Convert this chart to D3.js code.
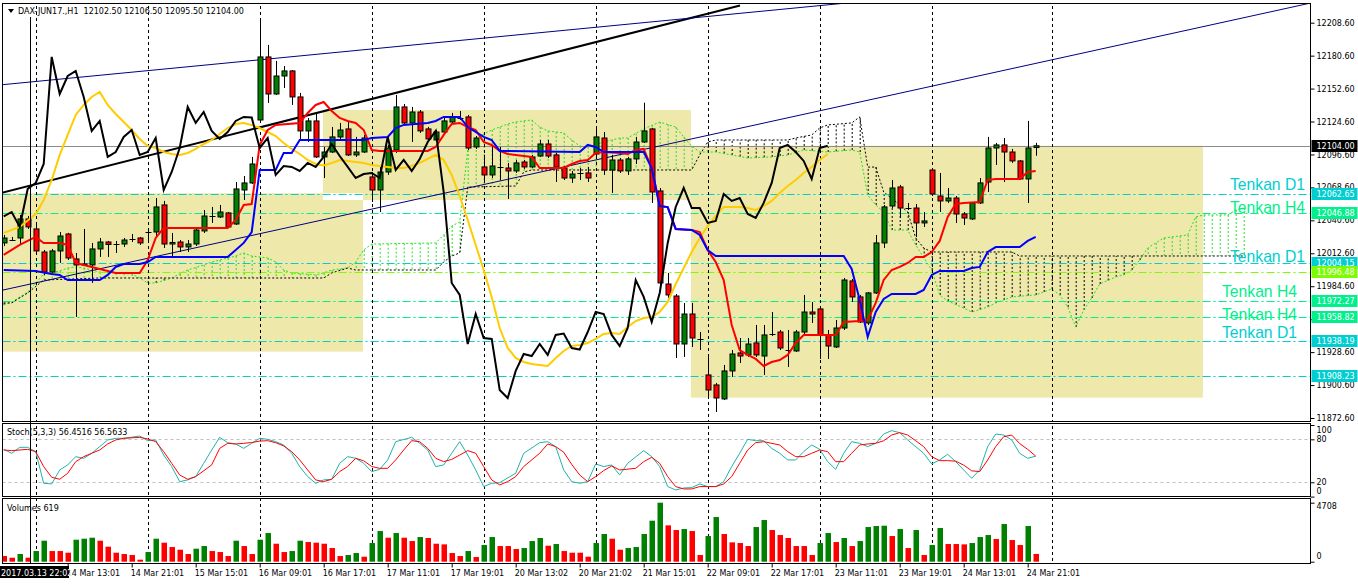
<!DOCTYPE html>
<html><head><meta charset="utf-8">
<script src="https://cdn.jsdelivr.net/npm/d3@7"></script>
<style>body{margin:0;background:#fff}svg{display:block}text{font-family:"DejaVu Sans",sans-serif}</style>
</head><body><svg id="c" width="1358" height="584"></svg>
<script>
// ---------- DATA ----------
const symbolTitle = "DAX-JUN17.,H1  12102.50 12106.50 12095.50 12104.00";
const open = [
12021.4,12024.8,12025.6,12041.8,12033.3,12013.7,11996.7,12014.6,12029.0,12007.8,
12002.7,12002.7,12016.3,12022.2,12021.4,12020.5,12024.3,12025.6,12030.3,12030.7,
12053.7,12020.5,12022.2,12018.0,12020.5,12031.6,12043.5,12043.5,12046.9,12037.5,
12066.4,12072.4,12125.9,12179.5,12148.0,12163.3,12167.6,12145.5,12116.6,12125.1,
12094.5,12098.7,12111.5,12118.3,12096.2,12098.7,12077.5,12066.4,12081.7,12100.4,
12137.0,12123.4,12132.7,12118.3,12108.9,12115.7,12124.2,12128.5,12128.5,12103.0,
12086.0,12079.2,12086.4,12085.1,12082.6,12090.2,12086.0,12095.3,12105.5,12096.2,
12085.1,12076.6,12081.3,12080.9,12097.0,12110.6,12083.4,12091.9,12082.6,12092.8,
12107.2,12118.3,12065.6,11986.5,11976.3,11935.5,11961.0,11940.2,11909.2,11900.7,
11888.8,11912.6,11927.9,11926.2,11936.4,11925.3,11944.9,11945.7,11931.3,11929.6,
11945.7,11962.7,11965.3,11943.2,11933.0,11949.1,11989.1,11975.5,11953.4,11978.9,
12021.4,12052.8,12069.0,12051.5,12051.1,12038.4,12083.4,12061.3,12057.1,12059.6,
12046.0,12041.8,12055.4,12073.2,12102.1,12104.7,12098.7,12091.1,12075.8,12102.5];
const high = [
12028.2,12026.5,12045.2,12044.3,12036.7,12015.4,12016.3,12030.7,12030.0,12012.9,
12033.3,12021.4,12025.6,12023.1,12023.1,12025.6,12029.0,12026.5,12032.4,12059.6,
12057.1,12029.9,12023.9,12023.9,12034.1,12049.4,12052.0,12053.7,12047.7,12073.2,
12078.3,12094.5,12210.3,12189.7,12176.1,12171.8,12168.4,12148.9,12127.6,12131.9,
12103.0,12120.0,12123.4,12124.2,12111.5,12113.2,12081.7,12086.0,12104.7,12147.2,
12139.5,12137.0,12134.4,12120.0,12117.4,12128.5,12131.9,12133.6,12130.2,12112.3,
12096.2,12104.7,12103.0,12089.4,12091.9,12091.9,12096.2,12108.9,12108.9,12097.9,
12086.8,12082.6,12085.1,12086.0,12120.0,12115.7,12096.2,12093.6,12094.5,12111.5,
12140.6,12119.1,12068.1,11995.9,11978.0,11970.4,11970.4,11945.7,11924.5,11902.4,
11917.7,11930.4,11940.6,11940.6,11951.7,11951.7,11962.7,11947.4,11947.4,11947.4,
11977.2,11971.2,11967.0,11947.4,11955.9,11991.6,11990.8,11977.2,11979.7,12028.2,
12053.7,12074.9,12070.7,12055.4,12054.5,12047.7,12085.1,12080.9,12068.1,12061.3,
12047.7,12056.2,12076.6,12111.5,12106.4,12110.6,12101.3,12091.9,12125.1,12106.5];
const low = [
12018.8,12023.1,12020.5,12033.3,12012.9,11994.2,11995.9,12004.4,12006.9,11958.5,
12001.8,11987.4,12009.5,12009.5,12012.9,12018.0,12022.2,12019.7,12021.4,12026.5,
12017.1,12008.6,12013.7,12013.7,12018.8,12029.9,12038.4,12042.6,12034.1,12036.7,
12057.9,12071.5,12125.1,12140.4,12147.2,12153.1,12138.7,12108.9,12107.2,12093.6,
12076.6,12097.9,12108.9,12095.3,12094.5,12097.9,12056.2,12047.7,12079.2,12097.9,
12121.7,12107.2,12114.9,12108.1,12107.2,12114.9,12123.4,12125.9,12100.4,12101.3,
12074.9,12076.6,12074.9,12058.8,12080.9,12084.3,12085.1,12094.5,12093.6,12073.2,
12074.9,12072.4,12074.9,12073.2,12095.3,12079.2,12063.9,12080.9,12079.2,12088.5,
12106.4,12055.4,11986.5,11974.6,11923.6,11924.5,11933.0,11930.4,11890.5,11877.7,
11887.9,11907.5,11919.4,11924.5,11924.5,11909.2,11942.3,11930.4,11916.0,11928.7,
11944.0,11953.4,11922.8,11922.8,11932.1,11947.4,11971.2,11953.4,11951.7,11978.0,
12017.1,12051.1,12042.6,12049.4,12026.5,12035.0,12061.3,12047.7,12055.4,12038.4,
12036.7,12040.9,12054.5,12064.7,12087.7,12073.2,12089.4,12074.9,12055.4,12095.5];
const close = [
12025.6,12024.3,12041.8,12035.0,12014.6,11996.7,12014.6,12027.3,12008.6,12002.7,
12003.5,12016.3,12022.2,12020.1,12020.9,12023.9,12024.8,12021.4,12030.7,12052.0,
12020.5,12021.8,12018.0,12020.5,12032.4,12044.3,12043.9,12047.7,12035.0,12067.3,
12072.4,12088.5,12179.5,12148.0,12163.3,12167.6,12145.5,12116.6,12125.1,12094.5,
12098.7,12111.5,12117.4,12096.2,12098.7,12110.6,12066.4,12081.7,12102.1,12137.0,
12123.4,12132.7,12116.6,12109.8,12115.7,12125.1,12128.5,12128.0,12102.1,12110.6,
12079.2,12086.8,12086.0,12082.6,12089.4,12086.0,12094.5,12105.5,12095.3,12086.0,
12076.6,12080.0,12080.9,12076.6,12111.5,12083.4,12091.9,12082.6,12092.8,12107.2,
12116.6,12064.7,11987.4,11977.2,11935.5,11961.0,11940.6,11939.8,11896.4,11889.6,
11912.6,11927.0,11925.3,11935.5,11926.2,11943.2,11944.4,11932.1,11930.8,11945.7,
11962.7,11961.0,11943.2,11933.8,11949.1,11989.9,11975.5,11954.2,11978.9,12021.4,
12052.0,12068.1,12051.1,12051.1,12038.4,12040.1,12063.0,12057.1,12059.6,12046.0,
12042.6,12055.4,12072.4,12102.1,12104.7,12098.7,12091.1,12075.8,12102.1,12104.0];
const volume = [
452,319,612,319,851,1676,851,851,718,1756,
1835,1915,1676,1197,718,612,532,160,771,1835,
1516,1170,958,612,1037,1250,851,771,452,1676,
1250,612,1756,2288,1436,771,851,1676,1569,1516,
1436,1091,452,532,692,399,1490,2447,1915,2288,
1915,1649,1968,1889,1436,1383,692,452,851,372,
1330,1968,1250,1250,1011,1091,1649,1889,1277,1410,
851,718,718,399,1490,2208,1835,958,1091,1170,
2208,3272,4708,2900,2527,2607,2447,532,2048,3564,
2208,1543,1490,1250,2766,3325,2527,2128,1889,1250,
1250,532,1490,2288,1569,1889,1250,1649,2766,2846,
2873,2048,2607,1091,2527,532,1330,2687,1410,1410,
1383,1490,1968,2128,1809,3006,1729,1330,2846,619];
const chikouShift = 26;
const tenkan = [[0,12011.2],[2,12019.7],[4,12026.5],[5,12021.4],[7,12021.4],[8,12019.7],[9,12004.4],[10,12002.7],[12,11999.3],[14,11995.9],[17,11995.9],[18,12006.9],[19,12025.6],[20,12034.1],[28,12034.1],[29,12040.9],[30,12053.7],[31,12054.5],[32,12104.7],[33,12117.4],[34,12121.7],[37,12123.4],[38,12131.9],[39,12138.7],[40,12141.2],[41,12133.6],[42,12127.6],[43,12125.1],[44,12123.4],[45,12117.4],[46,12100.4],[47,12099.6],[53,12099.6],[54,12103.0],[55,12113.2],[56,12122.5],[57,12123.4],[58,12119.9],[59,12117.4],[60,12107.2],[61,12104.7],[62,12099.6],[63,12097.0],[64,12096.2],[66,12094.5],[67,12085.1],[70,12085.1],[71,12088.5],[72,12091.0],[73,12091.9],[74,12097.9],[75,12098.7],[77,12097.9],[78,12097.0],[79,12100.4],[80,12101.3],[81,12085.1],[82,12052.8],[83,12051.9],[84,12033.3],[86,12032.4],[87,12030.7],[88,12015.4],[89,12005.2],[90,11989.9],[91,11951.7],[92,11930.4],[93,11926.2],[94,11922.8],[95,11916.8],[96,11920.2],[97,11921.9],[98,11926.2],[99,11936.4],[100,11943.2],[104,11943.2],[105,11954.2],[107,11955.0],[108,11955.9],[109,11970.4],[110,11989.9],[111,11998.4],[112,12001.0],[113,12004.4],[114,12009.5],[115,12009.5],[116,12013.7],[117,12023.1],[118,12043.5],[119,12054.5],[120,12055.4],[122,12056.2],[123,12074.9],[124,12075.8],[127,12075.8],[128,12081.7],[129,12082.6]];
const kijun = [[0,11998.4],[4,11997.6],[6,11995.0],[7,11994.2],[8,11989.9],[12,11989.9],[13,11994.2],[14,12001.0],[15,12003.5],[17,12003.5],[18,12005.2],[19,12009.5],[28,12009.5],[29,12015.4],[30,12021.4],[31,12030.7],[32,12083.4],[34,12083.4],[35,12097.9],[36,12097.9],[37,12108.9],[45,12108.9],[46,12110.6],[48,12111.5],[49,12119.1],[50,12121.7],[53,12123.4],[54,12125.1],[55,12128.5],[57,12128.5],[58,12119.9],[60,12111.5],[61,12108.9],[62,12099.6],[72,12098.7],[73,12104.7],[74,12103.0],[75,12098.7],[80,12098.7],[81,12085.1],[82,12052.8],[83,12051.9],[84,12033.3],[86,12032.4],[87,12028.2],[88,12015.4],[89,12010.3],[105,12010.3],[106,11999.3],[107,11972.9],[108,11941.5],[109,11962.7],[110,11973.8],[111,11978.0],[114,11978.0],[115,11981.4],[116,11994.2],[117,11997.6],[120,11997.6],[121,12000.1],[122,12001.0],[123,12013.7],[124,12017.9],[127,12017.9],[128,12023.1],[129,12026.5]];
const spanA = [[0,11968.7],[1,11971.2],[3,11979.7],[5,11995.0],[7,11997.6],[8,12000.1],[9,12001.0],[10,12000.1],[12,11996.7],[16,11995.0],[17,11991.6],[18,11987.4],[19,11987.4],[21,11991.6],[23,11998.4],[25,12002.7],[26,12005.2],[29,12010.3],[30,12012.9],[31,12010.3],[33,12008.6],[34,12005.2],[35,11998.4],[36,11995.9],[39,11994.2],[40,11995.9],[41,11998.4],[43,12000.1],[44,12005.2],[45,12015.4],[46,12020.5],[54,12021.4],[55,12028.2],[56,12035.8],[57,12039.2],[58,12100.4],[59,12110.6],[61,12117.4],[63,12122.5],[64,12124.2],[65,12125.1],[66,12125.9],[67,12119.9],[68,12116.6],[70,12114.9],[71,12108.9],[72,12103.8],[73,12103.0],[75,12107.2],[77,12110.6],[78,12110.6],[80,12118.3],[82,12124.2],[84,12119.9],[85,12111.5],[86,12103.8],[87,12098.7],[89,12098.7],[93,12093.6],[96,12094.5],[98,12096.2],[100,12100.4],[103,12098.7],[106,12100.4],[107,12098.7],[108,12062.2],[109,12053.7],[110,12047.7],[111,12032.4],[113,12032.4],[114,12019.7],[116,11998.4],[117,11977.2],[118,11972.0],[120,11966.1],[121,11962.7],[123,11966.9],[124,11970.4],[126,11975.5],[129,11977.2],[131,11982.3],[132,11977.2],[133,11967.0],[134,11949.9],[135,11964.4],[136,11974.6],[137,11986.5],[139,11992.5],[140,11994.2],[141,11998.4],[142,12006.9],[143,12017.1],[144,12021.4],[145,12025.6],[148,12028.2],[149,12043.5],[150,12045.2],[153,12045.2],[154,12049.4],[155,12051.1]];
const spanB = [[0,11970.4],[1,11970.4],[3,11978.9],[5,11989.9],[12,11991.6],[40,11991.6],[41,11995.9],[43,12000.1],[44,11998.4],[54,11998.4],[55,12005.2],[56,12010.3],[57,12012.9],[58,12068.9],[64,12069.8],[65,12081.7],[66,12083.4],[86,12083.4],[87,12096.2],[88,12107.2],[89,12108.9],[98,12108.9],[99,12110.6],[101,12113.2],[102,12119.1],[103,12121.7],[106,12123.4],[107,12128.5],[108,12085.9],[109,12085.9],[110,12064.7],[112,12053.7],[113,12047.7],[114,12025.6],[115,12017.1],[116,12013.7],[126,12013.7],[127,12010.3],[155,12010.3]];
const maLine = [[0,12029.9],[2,12035.0],[4,12046.0],[5,12057.9],[6,12074.9],[7,12096.2],[8,12113.2],[9,12130.2],[10,12138.7],[11,12145.5],[12,12149.7],[13,12138.7],[14,12131.0],[15,12124.2],[16,12117.4],[17,12109.8],[18,12103.8],[19,12102.1],[20,12098.7],[21,12097.0],[22,12096.2],[23,12097.9],[24,12101.3],[25,12105.5],[26,12108.9],[27,12114.0],[28,12119.1],[29,12122.5],[30,12123.4],[31,12121.7],[32,12119.1],[33,12115.7],[34,12112.3],[35,12106.4],[36,12101.3],[37,12097.0],[38,12091.9],[39,12088.5],[40,12087.2],[41,12089.4],[42,12091.9],[43,12091.0],[44,12090.2],[45,12089.4],[46,12087.7],[47,12086.8],[48,12086.0],[49,12085.1],[50,12085.1],[51,12086.8],[52,12089.4],[53,12092.8],[54,12096.2],[55,12091.9],[56,12079.2],[57,12061.3],[58,12040.9],[59,12019.7],[60,11998.4],[61,11975.5],[62,11949.1],[63,11932.1],[64,11923.6],[65,11920.2],[66,11918.5],[67,11917.7],[68,11916.8],[69,11923.6],[70,11929.6],[71,11933.8],[72,11934.7],[73,11936.4],[74,11939.8],[75,11944.0],[76,11944.9],[77,11944.0],[78,11949.9],[79,11955.0],[80,11957.6],[81,11958.5],[82,11962.7],[83,11971.2],[84,11986.5],[85,12000.1],[86,12013.7],[87,12025.6],[88,12035.8],[89,12044.3],[90,12052.0],[91,12052.0],[92,12052.0],[93,12051.1],[94,12049.4],[95,12052.8],[96,12057.1],[97,12063.9],[98,12069.8],[99,12074.9],[100,12080.9],[101,12086.0],[102,12091.9],[103,12097.0]];
const stochMain = [[0,66.0],[1,60.5],[2,68.8],[3,68.8],[4,62.8],[5,18.6],[6,17.7],[7,37.2],[8,44.2],[9,55.8],[10,53.5],[11,60.5],[12,69.8],[13,79.1],[14,81.4],[15,81.4],[17,84.6],[18,78.1],[19,79.1],[20,58.1],[21,41.9],[22,20.9],[23,23.3],[24,27.9],[25,46.5],[26,65.1],[27,82.8],[28,75.3],[29,73.5],[30,67.4],[31,74.4],[32,81.4],[33,80.0],[34,76.7],[35,72.1],[36,60.5],[37,41.9],[38,27.9],[39,18.6],[40,23.3],[41,24.2],[42,46.5],[43,55.8],[44,53.5],[45,46.5],[46,34.9],[47,38.1],[48,51.2],[49,76.7],[51,82.8],[52,74.4],[53,65.1],[54,41.9],[55,44.2],[56,60.5],[57,76.7],[58,58.1],[59,37.2],[60,14.0],[61,18.6],[62,19.5],[64,32.6],[65,60.5],[67,75.3],[68,76.7],[69,69.8],[70,37.2],[71,20.9],[72,18.6],[73,20.9],[74,45.6],[75,41.9],[76,44.2],[77,30.2],[78,46.5],[80,64.2],[81,55.8],[82,41.9],[83,14.0],[84,9.3],[85,12.0],[86,12.6],[87,17.7],[88,14.0],[89,14.0],[90,20.9],[91,41.9],[92,60.5],[93,80.0],[94,78.1],[95,78.1],[96,67.4],[97,60.5],[98,51.2],[99,51.2],[100,62.8],[101,72.1],[102,66.0],[103,48.8],[104,38.1],[105,60.5],[106,76.7],[107,74.4],[108,69.8],[109,74.4],[110,87.4],[111,92.1],[112,89.3],[113,79.1],[115,60.5],[116,45.6],[117,51.2],[118,59.1],[119,48.8],[120,37.2],[121,25.6],[122,37.2],[123,69.8],[124,87.4],[125,86.0],[126,79.1],[127,60.5],[128,53.5],[129,56.45]];
const stochSignal = [[0,65.1],[1,64.2],[3,66.0],[4,62.8],[5,41.9],[6,27.0],[7,24.2],[8,32.6],[9,48.8],[10,55.8],[11,60.5],[12,65.1],[13,73.5],[14,79.1],[15,81.4],[17,82.8],[18,80.5],[19,76.7],[20,62.8],[21,46.5],[22,30.2],[23,24.2],[24,27.9],[26,44.2],[27,67.4],[28,74.4],[29,73.5],[30,74.4],[31,75.5],[32,77.5],[33,78.1],[34,75.3],[35,70.7],[36,62.8],[37,51.2],[38,37.2],[39,23.3],[40,20.9],[41,24.2],[42,34.9],[43,42.0],[44,53.5],[45,50.0],[46,42.0],[47,39.5],[48,39.5],[49,51.2],[50,65.1],[51,78.1],[52,76.7],[53,67.4],[54,53.5],[55,48.8],[56,52.0],[57,58.0],[58,64.2],[59,60.5],[60,41.9],[61,23.3],[62,16.3],[63,20.9],[64,27.9],[65,41.9],[67,60.5],[68,73.5],[69,69.8],[70,62.0],[71,45.0],[72,30.2],[73,20.9],[74,27.9],[75,36.3],[76,42.8],[77,37.2],[79,39.5],[80,48.8],[81,54.9],[82,46.5],[83,27.9],[84,14.0],[85,10.7],[86,10.7],[87,14.0],[89,14.0],[90,17.7],[91,27.9],[92,46.5],[93,65.1],[94,75.3],[95,76.7],[97,72.1],[98,62.8],[99,55.8],[100,55.8],[101,60.5],[102,65.1],[103,62.8],[104,48.8],[105,48.8],[106,60.5],[107,72.1],[108,73.5],[109,74.5],[110,78.0],[111,86.0],[112,89.3],[113,86.0],[114,78.0],[115,69.8],[116,55.8],[117,50.2],[118,50.2],[119,49.5],[120,44.0],[121,36.0],[122,34.9],[123,51.2],[124,69.8],[125,83.7],[126,86.0],[127,74.0],[128,66.0],[129,56.56]];
const stochTitle = "Stoch(5,3,3) 56.4516 56.5633";
const volTitle = "Volumes 619";
const volMax = 4708;
const priceTicks = [12208.6,12180.6,12152.6,12124.6,12096.6,12068.6,12040.6,12012.6,11984.6,11956.6,11928.6,11900.6,11872.6];
const stochTicks = [100,80,20,0];
const stochLevels = [80,20];
const timeIdx = [8,16,24,32,40,48,56,64,72,80,88,96,104,112,120,128];
const timeLab = ["14 Mar 13:01","14 Mar 21:01","15 Mar 15:01","16 Mar 09:01","16 Mar 17:01","17 Mar 11:01","17 Mar 19:01","20 Mar 13:02","20 Mar 21:02","21 Mar 15:01","22 Mar 09:01","22 Mar 17:01","23 Mar 11:01","23 Mar 19:01","24 Mar 13:01","24 Mar 21:01"];
const daySeparators = [4,18,32,46,60,74,88,102,116,131];
const vLineIdx = 3.33, vLineLabel = "2017.03.13 22:02";
const bidPrice = 12104.00;
const hlinePrices = [12062.65,12046.88,12004.15,11996.48,11972.27,11958.82,11938.19,11908.23];
const hlineNames  = ["Tenkan D1","Tenkan H4","Tenkan D1","","Tenkan H4","Tenkan H4","Tenkan D1",""];
// rectangles: [startIdx, endIdx, priceTop, priceBottom]
const rects = [[-0.46,44.9,12063.6,11929.0],[39.9,85.9,12134.4,12057.9],[85.9,149.9,12104.0,11889.9]];
// trend lines: [idx1, price1, idx2, price2]
const trends = [[-0.46,12063.6,92.04,12223.2],[-0.46,12155.7,105.16,12225.2],[-0.46,11980.8,163.29,12225.2]];

// ---------- STYLE ----------
const hlineColors = ["#00CED1","#00F08C","#00CED1","#7CFC00","#00F08C","#00F08C","#00CED1","#00CED1"];
const hlineTextRight = [1305,1305,1305,1297,1297,1297];
const hlineTextDy = [-4,0,-1,-4,3.5,-3];
const trendStyles = [{c:"#000",w:2},{c:"#000080",w:1},{c:"#000080",w:1}];

// ---------- SCALES ----------
const svg = d3.select("#c");
const x = d3.scaleLinear().domain([0,1]).range([3.7,11.7]);
const y = d3.scaleLinear().domain([11872.6,12208.6]).range([418,22.7]);
const ys = d3.scaleLinear().domain([0,100]).range([496.6,425]);
const yv = d3.scaleLinear().domain([0,volMax]).range([561.7,502.7]);
const L=2.5, R=1310.5;
const P = {main:[3.5,421.5], stoch:[423.5,496.5], vol:[498.5,563.5]};

svg.append("rect").attr("width",1358).attr("height",584).attr("fill","#fff");
const defs = svg.append("defs");
Object.entries(P).forEach(([k,[t,b]])=>{
  defs.append("clipPath").attr("id","clip-"+k).append("rect").attr("x",L).attr("y",t).attr("width",R-L).attr("height",b-t);
});
const gMain = svg.append("g").attr("clip-path","url(#clip-main)");
const gSto = svg.append("g").attr("clip-path","url(#clip-stoch)");
const gVol = svg.append("g").attr("clip-path","url(#clip-vol)");

// rectangles (khaki, overlapping area xor -> white)
rects.forEach(r=>{
  gMain.append("rect").attr("x",x(r[0])).attr("y",y(r[2])).attr("width",x(r[1])-x(r[0])).attr("height",y(r[3])-y(r[2])).attr("fill","#EEE8AA");
});
for(let a=0;a<rects.length;a++)for(let b=a+1;b<rects.length;b++){
  const A=rects[a],B=rects[b];
  const x0=Math.max(A[0],B[0]),x1=Math.min(A[1],B[1]),p0=Math.min(A[2],B[2]),p1=Math.max(A[3],B[3]);
  if(x1>x0&&p0>p1) gMain.append("rect").attr("x",x(x0)).attr("y",y(p0)).attr("width",x(x1)-x(x0)).attr("height",y(p1)-y(p0)).attr("fill","#fff");
}

// cloud hatch
const fA = d3.scaleLinear().domain(spanA.map(d=>d[0])).range(spanA.map(d=>d[1])).clamp(true);
const fB = d3.scaleLinear().domain(spanB.map(d=>d[0])).range(spanB.map(d=>d[1])).clamp(true);
const cloudEnd = spanA[spanA.length-1][0];
for(let i=0;i<=cloudEnd;i++){
  const a=fA(i), b=fB(i);
  gMain.append("line").attr("x1",x(i)+0.5).attr("x2",x(i)+0.5).attr("y1",y(a)).attr("y2",y(b))
    .attr("stroke",a>=b?"#22E022":"#000").attr("stroke-width",1).attr("stroke-dasharray","2,2");
}
const line = d3.line().x(d=>x(d[0])).y(d=>y(d[1]));
gMain.append("path").attr("d",line(spanA)).attr("fill","none").attr("stroke","#22E022").attr("stroke-dasharray","2,2");
gMain.append("path").attr("d",line(spanB)).attr("fill","none").attr("stroke","#000").attr("stroke-dasharray","2,2");

// horizontal lines
hlinePrices.forEach((p,k)=>{
  gMain.append("line").attr("x1",L).attr("x2",R).attr("y1",Math.round(y(p))+0.5).attr("y2",Math.round(y(p))+0.5)
    .attr("stroke",hlineColors[k]).attr("stroke-width",1).attr("stroke-dasharray","8,3,2,3");
});
// bid line
gMain.append("line").attr("x1",L).attr("x2",R).attr("y1",Math.round(y(bidPrice))+0.5).attr("y2",Math.round(y(bidPrice))+0.5).attr("stroke","#8c8c8c");

// trend lines
trends.forEach((t,k)=>{
  gMain.append("line").attr("x1",x(t[0])).attr("y1",y(t[1])).attr("x2",x(t[2])).attr("y2",y(t[3]))
    .attr("stroke",trendStyles[k].c).attr("stroke-width",trendStyles[k].w);
});

// separators in all panels
[gMain,gSto,gVol].forEach(g=>{
  daySeparators.forEach(i=>{
    g.append("line").attr("x1",Math.round(x(i))+0.5).attr("x2",Math.round(x(i))+0.5).attr("y1",0).attr("y2",584)
      .attr("stroke","#000").attr("stroke-dasharray","3,3");
  });
});

// candles
close.forEach((c,i)=>{
  const o=open[i], cx=Math.round(x(i))+0.5;
  gMain.append("line").attr("x1",cx).attr("x2",cx).attr("y1",y(high[i])).attr("y2",y(low[i])).attr("stroke","#000");
  if(Math.abs(c-o)<0.6){
    gMain.append("line").attr("x1",cx-3).attr("x2",cx+3).attr("y1",Math.round(y(c))+0.5).attr("y2",Math.round(y(c))+0.5).attr("stroke","#000");
  } else {
    const t=y(Math.max(o,c)), b=y(Math.min(o,c));
    gMain.append("rect").attr("x",cx-2.5).attr("y",t).attr("width",5).attr("height",Math.max(1,b-t))
      .attr("fill",c>o?"#008000":"#FF0000").attr("stroke","#000").attr("stroke-width",1);
  }
});

// indicator lines (kijun drawn over tenkan, chikou on top)
const chikou = close.map((c,i)=>[i-chikouShift,c]).filter(d=>d[0]>=0);
gMain.append("path").attr("d",line(maLine)).attr("fill","none").attr("stroke","#FFCC00").attr("stroke-width",2);
gMain.append("path").attr("d",line(tenkan)).attr("fill","none").attr("stroke","#FF0000").attr("stroke-width",2);
gMain.append("path").attr("d",line(kijun)).attr("fill","none").attr("stroke","#0000FF").attr("stroke-width",2);
gMain.append("path").attr("d",line(chikou)).attr("fill","none").attr("stroke","#000").attr("stroke-width",2);

// line texts
let tk=0;
hlinePrices.forEach((p,k)=>{
  if(!hlineNames[k]) return;
  svg.append("text").attr("x",hlineTextRight[tk]).attr("y",y(p)+hlineTextDy[tk]).attr("text-anchor","end")
    .attr("textLength",75).attr("lengthAdjust","spacingAndGlyphs")
    .style("font-family","'Liberation Sans',Arial,sans-serif").style("font-size","17px")
    .attr("fill",hlineColors[k]).text(hlineNames[k]);
  tk++;
});

// vertical line object
svg.append("line").attr("x1",Math.round(x(vLineIdx))+0.5).attr("x2",Math.round(x(vLineIdx))+0.5).attr("y1",17).attr("y2",P.vol[1]).attr("stroke","#000");

// stochastic
const lineS = d3.line().x(d=>x(d[0])).y(d=>ys(d[1]));
stochLevels.forEach(v=>{
  gSto.append("line").attr("x1",L).attr("x2",R).attr("y1",Math.round(ys(v))+0.5).attr("y2",Math.round(ys(v))+0.5).attr("stroke","#C0C0C0").attr("stroke-dasharray","3,3");
});
gSto.append("path").attr("d",lineS(stochMain)).attr("fill","none").attr("stroke","#20B2AA").attr("stroke-width",1);
gSto.append("path").attr("d",lineS(stochSignal)).attr("fill","none").attr("stroke","#FF0000").attr("stroke-width",1);

// volumes
volume.forEach((v,i)=>{
  const up = i>0 && v>volume[i-1];
  gVol.append("rect").attr("x",Math.round(x(i))-2.5).attr("y",yv(v)).attr("width",5.5).attr("height",yv(0)-yv(v)).attr("fill",up?"#008000":"#FF0000");
});

// panel frames
Object.values(P).forEach(([t,b])=>{
  svg.append("rect").attr("x",L).attr("y",t).attr("width",R-L).attr("height",b-t).attr("fill","none").attr("stroke","#000");
});

// titles
svg.append("path").attr("d","M8,9 L14,9 L11,13 Z").attr("fill","#000");
svg.append("text").attr("x",18).attr("y",14).style("font-size","8px").style("white-space","pre").attr("fill","#000").text(symbolTitle);
svg.append("text").attr("x",7).attr("y",435).style("font-size","8px").text(stochTitle);
svg.append("text").attr("x",7).attr("y",511).style("font-size","8px").text(volTitle);

// price axis
const ax = svg.append("g").attr("transform",`translate(${R},0)`)
  .call(d3.axisRight(y).tickValues(priceTicks).tickSize(4).tickPadding(2).tickFormat(d3.format(".2f")));
ax.select(".domain").remove();
ax.selectAll("text").style("font-size","8px").style("font-family","'DejaVu Sans',sans-serif");
// price boxes
const boxP = [bidPrice].concat(hlinePrices);
const boxC = ["#000"].concat(hlineColors);
boxP.forEach((p,k)=>{
  const yy=Math.round(y(p));
  svg.append("rect").attr("x",R+1).attr("y",yy-6).attr("width",46).attr("height",12).attr("fill",boxC[k]);
  svg.append("text").attr("x",R+6).attr("y",yy+3).style("font-size","8px").attr("fill","#fff").text(p.toFixed(2));
});
// stoch axis
const as = svg.append("g").attr("transform",`translate(${R},0)`)
  .call(d3.axisRight(ys).tickValues(stochTicks).tickSize(4).tickPadding(2).tickFormat(d3.format("d")));
as.select(".domain").remove();
as.selectAll("text").style("font-size","8px").style("font-family","'DejaVu Sans',sans-serif")
  .attr("dy",d=>d===100?"0.9em":d===0?"-0.4em":"0.32em");
// volume axis
const av = svg.append("g").attr("transform",`translate(${R},0)`)
  .call(d3.axisRight(yv).tickValues([volMax,0]).tickSize(4).tickPadding(2).tickFormat(d3.format("d")));
av.select(".domain").remove();
av.selectAll("text").style("font-size","8px").style("font-family","'DejaVu Sans',sans-serif")
  .attr("dy",d=>d===0?"-0.4em":"0.7em");

// time axis
const at = svg.append("g").attr("transform",`translate(0,${P.vol[1]})`)
  .call(d3.axisBottom(x).tickValues(timeIdx).tickSize(4).tickPadding(3).tickFormat((d,k)=>timeLab[k]));
at.select(".domain").remove();
at.selectAll("text").style("font-size","8px").style("font-family","'DejaVu Sans',sans-serif").attr("text-anchor","start").attr("dx","-1.5");
// vertical line time label
svg.append("rect").attr("x",0).attr("y",566).attr("width",69).attr("height",12).attr("fill","#000");
svg.append("text").attr("x",1).attr("y",575.5).style("font-size","8px").attr("fill","#fff").text(vLineLabel);
</script></body></html>
